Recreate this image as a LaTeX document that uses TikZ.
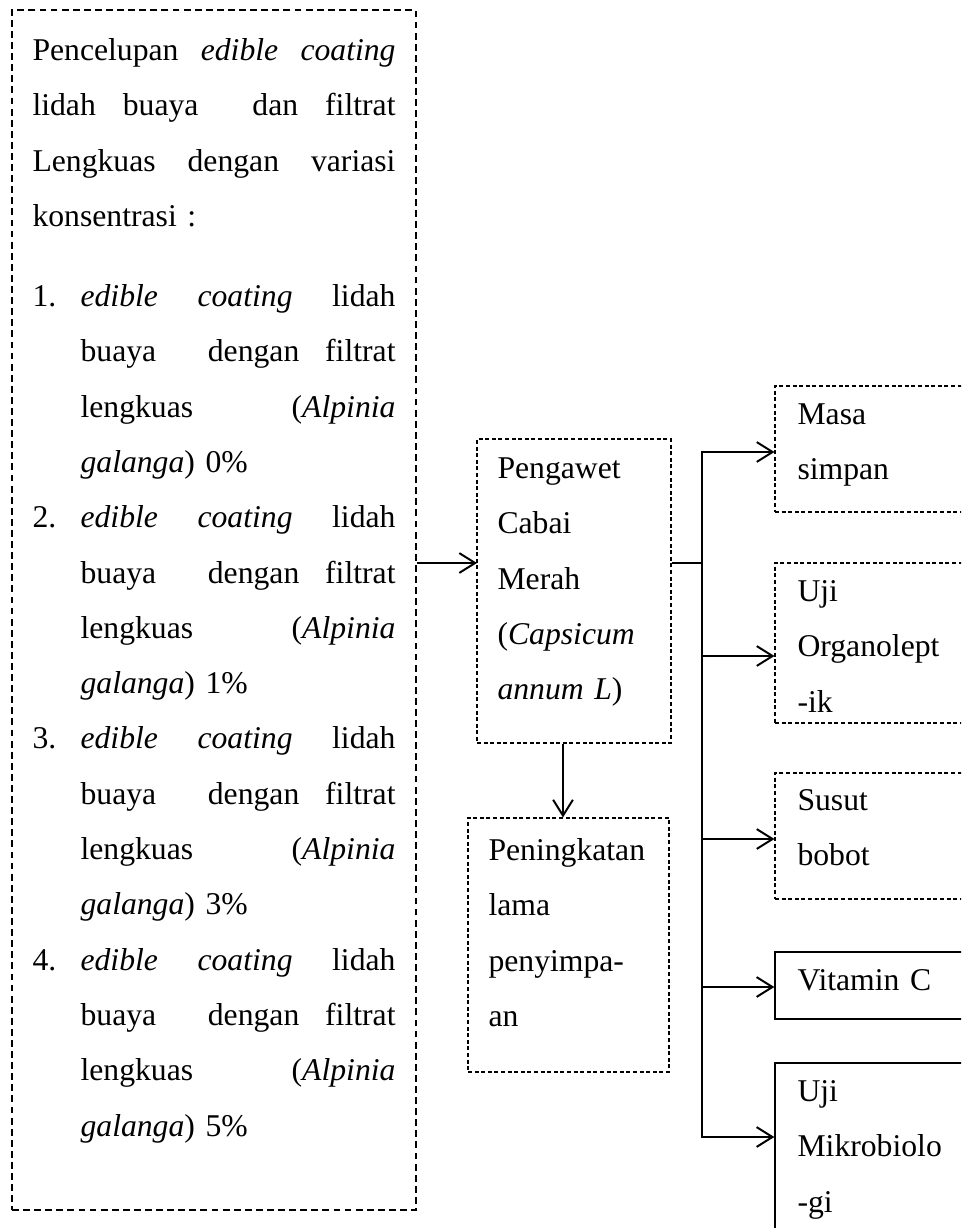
\documentclass[tikz,border=0pt]{standalone}
\usepackage{fontspec}
\setmainfont{Liberation Serif}
\usepackage{tikz}
\usetikzlibrary{fit}
\usetikzlibrary{arrows.meta}

\tikzset{
  outerbox/.style={draw, line width=0.75pt, dash pattern=on 2.6pt off 1.6pt, inner sep=0pt},
  dotbox/.style={draw, line width=0.4pt, dash pattern=on 1.5pt off 1pt, inner sep=0pt},
  plainbox/.style={draw, line width=0.5pt, inner sep=0pt},
  txt/.style={anchor=north west, inner sep=0pt, yshift=12pt, align=left, text width=#1,
    font=\fontsize{12pt}{20.95pt}\selectfont, execute at begin node=\rule{0pt}{12pt}},
  txt/.default=62pt,
  arr/.style={-{Straight Barb[length=6pt,width=7.5pt]}, line width=0.75pt},
}

\begin{document}
\begin{tikzpicture}[x=0.3788pt, y=-0.3788pt]
  \useasboundingbox (0,0) rectangle (961,1228);
  \clip (0,0) rectangle (961,1228);

  % dipping treatments
  \node[outerbox, fit={(12,10) (416,1210)}] (celup) {};
  \node[txt=137.5pt] (celuptxt) at (32,60) {%
    \makebox[137.5pt][s]{Pencelupan\hfill\textit{edible}\hfill\textit{coating}}\\
    \makebox[137.5pt][s]{lidah\hfill buaya\hfill\hfill dan\hfill filtrat}\\
    \makebox[137.5pt][s]{Lengkuas\hfill dengan\hfill variasi}\\
    konsentrasi :};
  \foreach \pct [count=\i] in {0,1,3,5}
    \node[txt=137.5pt] (item\i) at (32,{306+221.2*(\i-1)}) {%
      \makebox[18.2pt][l]{\i.}\makebox[119.3pt][s]{\textit{edible}\hfill\textit{coating}\hfill lidah}\\
      \hspace*{18.2pt}\makebox[119.3pt][s]{buaya\hfill\hfill dengan\hfill filtrat}\\
      \hspace*{18.2pt}\makebox[119.3pt][s]{lengkuas\hfill(\textit{Alpinia}}\\
      \hspace*{18.2pt}\textit{galanga}) \pct\%};

  % middle column
  \node[dotbox, fit={(477,439) (671,743)}] (pengawet) {};
  \node[txt] (pengawettxt) at (497,478) {Pengawet\\Cabai\\Merah\\(\textit{Capsicum}\\\textit{annum L})};
  \node[dotbox, fit={(468,818) (669,1072)}] (simpan) {};
  \node[txt=66pt] (simpantxt) at (488,860) {Peningkatan\\lama\\penyimpa-\\an};

  % tests
  \node[dotbox, fit={(775,386) (1000,512)}] (masa) {};
  \node[txt] (masatxt) at (797,424) {Masa\\simpan};
  \node[dotbox, fit={(775,563) (1000,723)}] (organo) {};
  \node[txt] (organotxt) at (797,601) {Uji\\Organolept\\-ik};
  \node[dotbox, fit={(775,773) (1000,899)}] (susut) {};
  \node[txt] (susuttxt) at (797,810) {Susut\\bobot};
  \node[plainbox, fit={(775,952) (1000,1019)}] (vitc) {};
  \node[txt] (vitctxt) at (797,990) {Vitamin C};
  \node[plainbox, fit={(775,1063) (1000,1260)}] (mikro) {};
  \node[txt] (mikrotxt) at (797,1101) {Uji\\Mikrobiolo\\-gi};

  % connectors
  \coordinate (feed) at (477,563);
  \coordinate (fork) at (702,563);
  \draw[arr] (celup.east |- feed) -- (feed);
  \draw[line width=0.5pt] (pengawet.east |- fork) -- (fork);
  \draw[arr] (pengawet.south -| 563,0) -- (simpan.north -| 563,0);
  \draw[line width=0.75pt, line cap=rect] (fork |- 0,452) -- (fork |- 0,1137);
  \foreach \target/\yy in {masa/452, organo/656, susut/839, vitc/987, mikro/1137}
    \draw[arr] (fork |- 0,\yy) -- (\target.west |- 0,\yy);
\end{tikzpicture}
\end{document}
